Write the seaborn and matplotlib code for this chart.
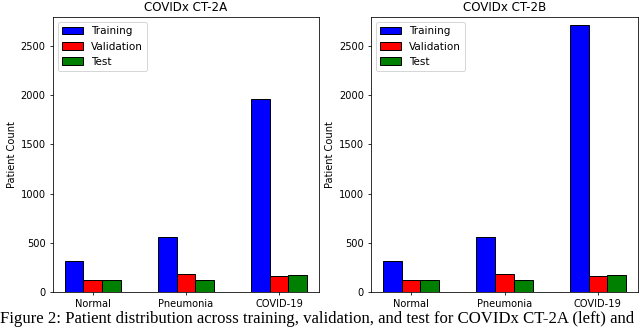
import matplotlib
matplotlib.use("Agg")
import matplotlib.pyplot as plt
import pandas as pd
import seaborn as sns

# patient counts per class and split
classes = ['Normal', 'Pneumonia', 'COVID-19']
splits = ['Training', 'Validation', 'Test']
ct2a_train = [321, 558, 1958]
ct2a_val = [126, 190, 166]
ct2a_test = [126, 125, 172]
ct2b_train = [321, 558, 2711]
ct2b_val = [126, 190, 166]
ct2b_test = [126, 125, 172]
colors = ['blue', 'red', 'green']


def to_long(train, val, test):
    rows = []
    for split, vals in zip(splits, [train, val, test]):
        for c, v in zip(classes, vals):
            rows.append({'Class': c, 'Split': split, 'Count': v})
    return pd.DataFrame(rows)


dpi = 640 / 9.0
fig = plt.figure(figsize=(9.0, 328 / dpi), dpi=dpi)
ax1 = fig.add_axes([52.7 / 640, 1 - 292.3 / 328, (319 - 52.7) / 640, (292.3 - 17) / 328])
ax2 = fig.add_axes([371 / 640, 1 - 292.3 / 328, (638 - 371) / 640, (292.3 - 17) / 328])

panels = [(ax1, 'COVIDx CT-2A', to_long(ct2a_train, ct2a_val, ct2a_test)),
          (ax2, 'COVIDx CT-2B', to_long(ct2b_train, ct2b_val, ct2b_test))]

for ax, title, df in panels:
    sns.barplot(data=df, x='Class', y='Count', hue='Split', palette=colors,
                saturation=1, edgecolor='black', linewidth=1.0, width=0.6, ax=ax)
    ax.set_xlim(-0.43, 2.43)
    ax.set_ylim(0, 2790)
    ax.set_yticks([0, 500, 1000, 1500, 2000, 2500])
    ax.set_xlabel('')
    ax.set_ylabel('Patient Count')
    ax.set_title(title)
    sns.move_legend(ax, 'upper left', title=None, fontsize=10.5)

fig.text(0.0, 0.016, 'Figure 2: Patient distribution across training, validation, and test for COVIDx CT-2A (left) and',
         family='Liberation Serif', fontsize=17, ha='left', va='baseline')

fig.savefig('out.png', dpi=dpi)
